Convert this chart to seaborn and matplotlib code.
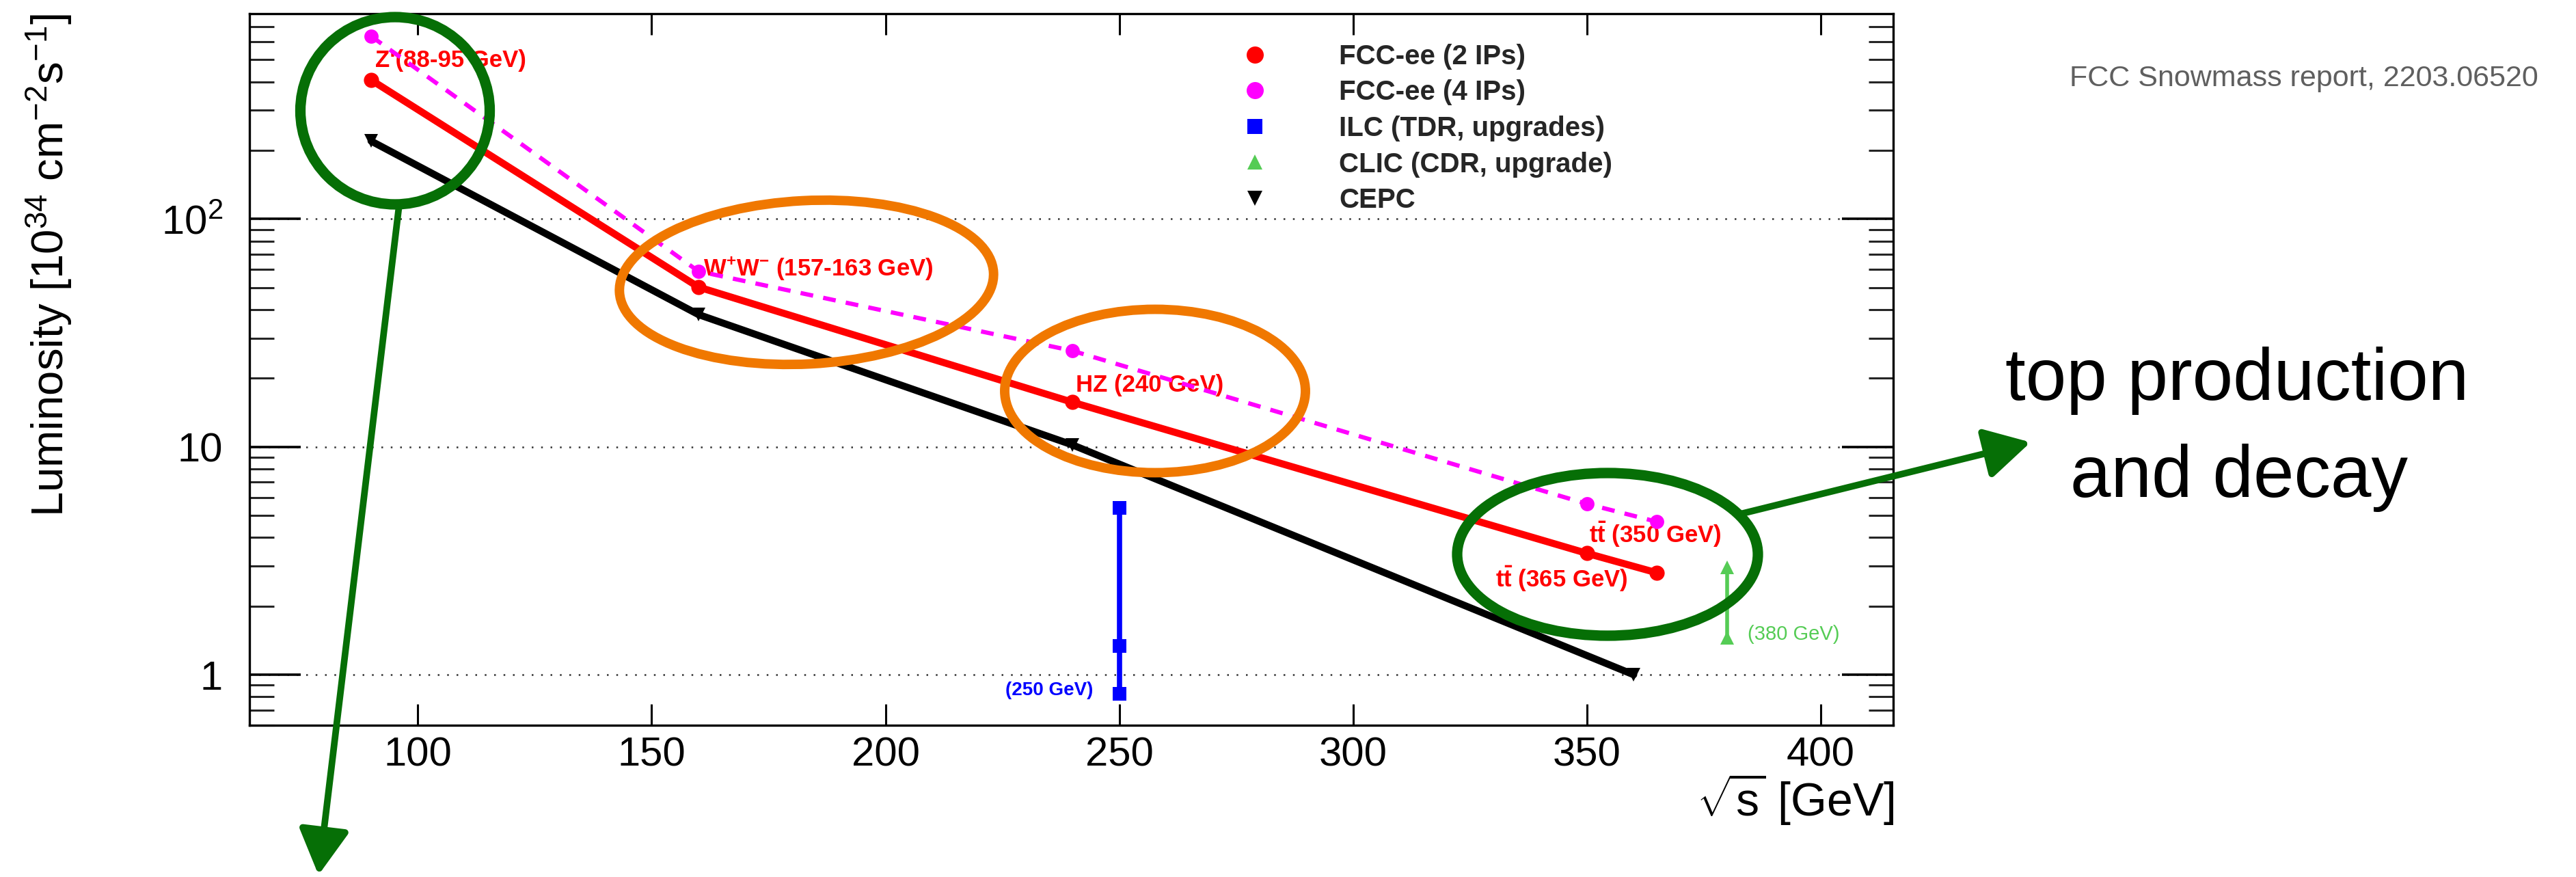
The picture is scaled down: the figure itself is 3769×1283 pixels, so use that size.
import numpy as np
import pandas as pd
import matplotlib
matplotlib.use("Agg")
import matplotlib.pyplot as plt
import seaborn as sns
from matplotlib.lines import Line2D
from matplotlib.patches import Ellipse, FancyArrowPatch
from matplotlib.ticker import FixedLocator, FixedFormatter, LogLocator, NullFormatter, NullLocator

# ---------------- data ----------------
fcc2_ecm = [90, 160, 240, 350, 365]
fcc2_lumi = [408, 50.3, 15.7, 3.41, 2.80]
fcc4_ecm = [90, 160, 240, 350, 365]
fcc4_lumi = [635, 59.0, 26.4, 5.62, 4.69]
cepc_ecm = [90, 160, 240, 360]
cepc_lumi = [220, 38.1, 10.2, 1.0]
ilc_ecm = [250, 250, 250]
ilc_lumi = [0.825, 1.34, 5.39]
clic_ecm = [380, 380]
clic_lumi = [1.45, 2.96]

legend_labels = ["FCC-ee (2 IPs)", "FCC-ee (4 IPs)", "ILC (TDR, upgrades)",
                 "CLIC (CDR, upgrade)", "CEPC"]
x_ticks = [100, 150, 200, 250, 300, 350, 400]
x_tick_labels = ["100", "150", "200", "250", "300", "350", "400"]
y_ticks = [1, 10, 100]
y_tick_labels = ["1", "10", "$10^{2}$"]

red_labels = ["Z'(88-95 GeV)", r"$\mathbf{W}^{\mathbf{+}}\mathbf{W}^{\mathbf{-}}$ (157-163 GeV)",
              "HZ (240 GeV)", r"$\mathbf{t\bar{t}}$ (350 GeV)", r"$\mathbf{t\bar{t}}$ (365 GeV)"]
ilc_label = "(250 GeV)"
clic_label = "(380 GeV)"
note_text = "FCC Snowmass report, 2203.06520"
callout_lines = ["top production", "and decay"]

# ---------------- style ----------------
sns.set_theme(style="white")
plt.rcParams["font.family"] = ["Liberation Sans", "DejaVu Sans"]
plt.rcParams["mathtext.fontset"] = "custom"
plt.rcParams["mathtext.rm"] = "Liberation Sans"
plt.rcParams["mathtext.it"] = "Liberation Sans:italic"
plt.rcParams["mathtext.bf"] = "Liberation Sans:bold"

W, H, DPI = 3769, 1283, 100
fig = plt.figure(figsize=(W / DPI, H / DPI), dpi=DPI)
fig.patch.set_facecolor("white")

def fx(px):
    return px / W

def fy(py):
    return 1 - py / H

ax = fig.add_axes([fx(365), fy(1061), fx(2770) - fx(365), fy(20) - fy(1061)])
ax.set_facecolor("white")
ax.set_yscale("log")
ax.set_xlim(64, 415.5)
ax.set_ylim(0.6, 797)

RED, MAG, BLUE, GREEN, BLACK = "#ff0000", "#ff00ff", "#0000ff", "#55cc55", "#000000"

sns.lineplot(x=cepc_ecm, y=cepc_lumi, ax=ax, color=BLACK, lw=7.5, marker="v",
             markersize=14, markeredgewidth=0, estimator=None, sort=False, zorder=3)
sns.lineplot(x=fcc2_ecm, y=fcc2_lumi, ax=ax, color=RED, lw=7.5, marker="o",
             markersize=16, markeredgewidth=0, estimator=None, sort=False, zorder=4)
sns.lineplot(x=fcc4_ecm, y=fcc4_lumi, ax=ax, color=MAG, lw=4.5, marker="o",
             markersize=15, markeredgewidth=0, estimator=None, sort=False, zorder=5)
ax.lines[-1].set_dashes((3.0, 2.4))
sns.lineplot(x=ilc_ecm, y=ilc_lumi, ax=ax, color=BLUE, lw=5.5, marker="s",
             markersize=15, markeredgewidth=0, estimator=None, sort=False, zorder=4)
sns.lineplot(x=clic_ecm, y=clic_lumi, ax=ax, color=GREEN, lw=4, marker="^",
             markersize=15, markeredgewidth=0, estimator=None, sort=False, zorder=4)

# axes styling (ROOT-like)
for s in ax.spines.values():
    s.set_linewidth(2.4)
    s.set_color("black")
    s.set_visible(True)
ax.xaxis.set_major_locator(FixedLocator(x_ticks))
ax.xaxis.set_major_formatter(FixedFormatter(x_tick_labels))
ax.xaxis.set_minor_locator(NullLocator())
ax.yaxis.set_major_locator(FixedLocator(y_ticks))
ax.yaxis.set_major_formatter(FixedFormatter(y_tick_labels))
ax.yaxis.set_minor_locator(LogLocator(base=10, subs=np.arange(2, 10)))
ax.yaxis.set_minor_formatter(NullFormatter())
ax.tick_params(axis="x", which="major", direction="in", length=22, width=2.2,
               top=True, bottom=True, pad=12, labelsize=43, colors="black")
ax.tick_params(axis="y", which="major", direction="in", length=54, width=2.6,
               left=True, right=True, pad=28, labelsize=43, colors="black")
ax.tick_params(axis="y", which="minor", direction="in", length=26, width=2.2,
               left=True, right=True)
ax.grid(axis="y", which="major", color="#333333", lw=1.8, ls=(0, (1.0, 4.5)))
ax.grid(axis="x", visible=False)
ax.set_axisbelow(True)
ax.set_xlabel("")
ax.set_ylabel("")

# point labels
lab_kw = dict(color=RED, fontsize=25, fontweight="bold", ha="left", va="center", zorder=1)
ax.text(90.9, 495, red_labels[0], **lab_kw)
ax.text(161.0, 60.6, red_labels[1], **lab_kw)
ax.text(240.7, 18.7, red_labels[2], **lab_kw)
ax.text(350.4, 4.12, red_labels[3], **lab_kw)
ax.text(330.4, 2.63, red_labels[4], **lab_kw)
ax.text(244.4, 0.854, ilc_label, color=BLUE, fontsize=20, fontweight="bold",
        ha="right", va="center", zorder=1)
ax.text(384.4, 1.50, clic_label, color=GREEN, fontsize=21, ha="left", va="center", zorder=1)

# axis titles
fig.text(fx(72), fy(20), r"Luminosity [10$^{34}$ cm$^{-2}$s$^{-1}$]", rotation=90,
         ha="center", va="top", fontsize=47, color="black")
fig.text(fx(2771), fy(1130), r"$\sqrt{\mathrm{s}}$ [GeV]", ha="right", va="top",
         fontsize=49, color="black")

# legend
handles = [
    Line2D([], [], color=RED, marker="o", ls="none", markersize=18, markeredgewidth=0),
    Line2D([], [], color=MAG, marker="o", ls="none", markersize=18, markeredgewidth=0),
    Line2D([], [], color=BLUE, marker="s", ls="none", markersize=16, markeredgewidth=0),
    Line2D([], [], color=GREEN, marker="^", ls="none", markersize=16, markeredgewidth=0),
    Line2D([], [], color=BLACK, marker="v", ls="none", markersize=16, markeredgewidth=0),
]
leg = fig.legend(handles, legend_labels, loc="upper left",
                 bbox_to_anchor=(fx(1816), fy(64)), bbox_transform=fig.transFigure,
                 frameon=False, borderpad=0, borderaxespad=0, handlelength=1.0,
                 handletextpad=2.55, labelspacing=0.36,
                 prop=dict(family=["Liberation Sans", "DejaVu Sans"], weight="bold", size=29))

# ---------------- hand-drawn overlay ----------------
ov = fig.add_axes([0, 0, 1, 1], zorder=10)
ov.set_xlim(0, W)
ov.set_ylim(H, 0)
ov.axis("off")
ov.patch.set_alpha(0)

DKGREEN, ORANGE = "#066f06", "#f07800"
ov.add_patch(Ellipse((578, 162), 277, 274, fill=False, ec=DKGREEN, lw=11))
ov.add_patch(Ellipse((1180, 413), 548, 239, angle=-3, fill=False, ec=ORANGE, lw=10))
ov.add_patch(Ellipse((1690, 572), 440, 239, fill=False, ec=ORANGE, lw=10))
ov.add_patch(Ellipse((2352, 811), 440, 238, fill=False, ec=DKGREEN, lw=11))

ov.add_patch(FancyArrowPatch((584, 300), (466, 1280), arrowstyle="-|>,head_length=0.45,head_width=0.25",
                             mutation_scale=90, color=DKGREEN, lw=7, shrinkA=0, shrinkB=0))
ov.add_patch(FancyArrowPatch((2546, 752), (2971, 647), arrowstyle="-|>,head_length=0.45,head_width=0.25",
                             mutation_scale=90, color=DKGREEN, lw=7, shrinkA=0, shrinkB=0))

fig.text(fx(3714), fy(126), note_text, ha="right", va="baseline", color="#5f5f5f",
         fontsize=31, family=["Liberation Sans", "DejaVu Sans"])
fig.text(fx(3273), fy(585), callout_lines[0], ha="center", va="baseline",
         color="black", fontsize=77)
fig.text(fx(3276), fy(727), callout_lines[1], ha="center", va="baseline",
         color="black", fontsize=77)

fig.savefig("out.png", dpi=DPI, facecolor="white")
